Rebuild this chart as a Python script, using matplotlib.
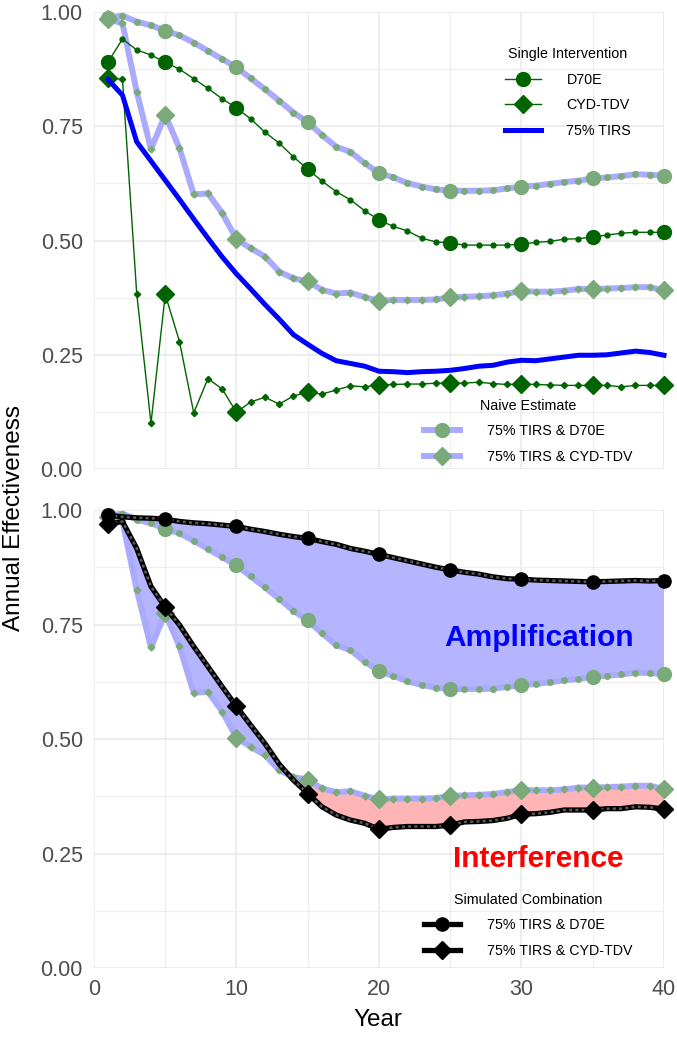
import numpy as np
import matplotlib
matplotlib.use("Agg")
import matplotlib.pyplot as plt
from matplotlib.lines import Line2D

plt.rcParams['font.family'] = ['Liberation Sans', 'DejaVu Sans']

# Date
years = np.arange(1, 41)
big_years = [1, 5, 10, 15, 20, 25, 30, 35, 40]

d70e = [0.891, 0.941, 0.917, 0.906, 0.890, 0.875, 0.854, 0.833, 0.810, 0.790,
        0.766, 0.737, 0.713, 0.683, 0.656, 0.630, 0.607, 0.589, 0.565, 0.545,
        0.531, 0.521, 0.505, 0.497, 0.495, 0.490, 0.490, 0.490, 0.490, 0.492,
        0.496, 0.498, 0.503, 0.504, 0.508, 0.512, 0.516, 0.518, 0.518, 0.518]
cyd = [0.855, 0.853, 0.384, 0.100, 0.382, 0.279, 0.123, 0.198, 0.175, 0.124,
       0.147, 0.157, 0.142, 0.160, 0.168, 0.164, 0.173, 0.182, 0.180, 0.184,
       0.185, 0.186, 0.186, 0.188, 0.188, 0.188, 0.190, 0.187, 0.185, 0.186,
       0.185, 0.184, 0.183, 0.183, 0.183, 0.183, 0.180, 0.183, 0.183, 0.183]
tirs = [0.852, 0.818, 0.716, 0.674, 0.632, 0.590, 0.547, 0.505, 0.464, 0.427,
        0.394, 0.360, 0.328, 0.294, 0.273, 0.253, 0.237, 0.231, 0.225, 0.214,
        0.213, 0.211, 0.213, 0.214, 0.216, 0.220, 0.225, 0.227, 0.234, 0.238,
        0.237, 0.241, 0.245, 0.249, 0.249, 0.250, 0.254, 0.258, 0.255, 0.249]
naive_d70e = [0.988, 0.992, 0.979, 0.971, 0.959, 0.949, 0.933, 0.915, 0.897, 0.879,
              0.855, 0.831, 0.806, 0.780, 0.759, 0.731, 0.705, 0.694, 0.669, 0.648,
              0.638, 0.626, 0.618, 0.612, 0.609, 0.609, 0.609, 0.610, 0.614, 0.618,
              0.620, 0.624, 0.628, 0.631, 0.636, 0.638, 0.641, 0.645, 0.644, 0.642]
naive_cyd = [0.985, 0.975, 0.826, 0.700, 0.775, 0.702, 0.601, 0.603, 0.560, 0.503,
             0.483, 0.465, 0.432, 0.417, 0.411, 0.392, 0.384, 0.386, 0.376, 0.368,
             0.370, 0.370, 0.370, 0.371, 0.376, 0.377, 0.378, 0.380, 0.384, 0.389,
             0.388, 0.388, 0.390, 0.394, 0.394, 0.395, 0.396, 0.398, 0.398, 0.391]
sim_d70e = [0.989, 0.985, 0.983, 0.982, 0.980, 0.975, 0.972, 0.970, 0.967, 0.964,
            0.958, 0.953, 0.947, 0.942, 0.938, 0.931, 0.925, 0.916, 0.910, 0.903,
            0.896, 0.889, 0.882, 0.875, 0.869, 0.864, 0.860, 0.854, 0.850, 0.849,
            0.847, 0.846, 0.845, 0.844, 0.843, 0.844, 0.845, 0.846, 0.845, 0.846]
sim_cyd = [0.969, 0.975, 0.916, 0.833, 0.788, 0.749, 0.702, 0.658, 0.614, 0.571,
           0.530, 0.490, 0.445, 0.410, 0.381, 0.352, 0.334, 0.323, 0.316, 0.303,
           0.307, 0.309, 0.309, 0.309, 0.312, 0.319, 0.320, 0.322, 0.327, 0.336,
           0.337, 0.340, 0.345, 0.345, 0.345, 0.348, 0.348, 0.352, 0.351, 0.347]

dkgreen = '#006400'
ltgreen = '#7aaa7a'
ltblue = '#aaaaff'
blue = '#0000ff'

idx = [y - 1 for y in big_years]


def sel(v):
    return [v[i] for i in idx]


def style(ax):
    ax.set_xlim(0, 40)
    ax.set_ylim(0, 1)
    ax.set_xticks([0, 10, 20, 30, 40])
    ax.set_xticks([5, 15, 25, 35], minor=True)
    ax.set_yticks([0, 0.25, 0.5, 0.75, 1.0])
    ax.set_yticklabels(['0.00', '0.25', '0.50', '0.75', '1.00'])
    ax.set_yticks([0.125, 0.375, 0.625, 0.875], minor=True)
    ax.grid(True, which='major', color='#e8e8e8', lw=1.1, zorder=0)
    ax.grid(True, which='minor', color='#efefef', lw=0.9, zorder=0)
    ax.set_axisbelow(True)
    for s in ax.spines.values():
        s.set_visible(False)
    ax.tick_params(which='both', length=0, labelsize=15.5, colors='#4d4d4d', pad=8)


def naive(ax, v, m, ms):
    ax.plot(years, v, color=ltblue, lw=4.3, zorder=2, clip_on=False, solid_capstyle='butt')
    ax.plot(years, v, ls='none', marker=m, ms=ms, color=ltgreen, zorder=2.1, clip_on=False)
    ax.plot(big_years, sel(v), ls='none', marker=m, ms=10 if m == 'o' else 9,
            color=ltgreen, zorder=2.2, clip_on=False)


def simulated(ax, v, m):
    ax.plot(years, v, color='black', lw=3.8, zorder=4, clip_on=False)
    ax.plot(years, v, color='#5a5a5a', lw=1.8, ls=(0, (1.2, 1.3)), zorder=4.1, clip_on=False)
    ax.plot(big_years, sel(v), ls='none', marker=m, ms=9.5 if m == 'o' else 9,
            color='black', zorder=4.2, clip_on=False)


leg_kw = dict(loc='upper left', frameon=False, fontsize=10.3, title_fontsize=10.3,
              handlelength=2.5, labelspacing=0.8, borderpad=0, borderaxespad=0)

fig = plt.figure(figsize=(6.77, 10.37), dpi=100)
ax1 = fig.add_axes([0.1388, 0.5477, 0.842, 0.4407])
ax2 = fig.add_axes([0.1388, 0.0665, 0.842, 0.4417])

# Panoul de sus - interventii singure + estimare naiva
style(ax1)
ax1.set_xticklabels([])
ax1.plot(years, d70e, color=dkgreen, lw=1.0, marker='o', ms=3.5, zorder=3, clip_on=False)
ax1.plot(big_years, sel(d70e), ls='none', marker='o', ms=10, color=dkgreen, zorder=3, clip_on=False)
ax1.plot(years, cyd, color=dkgreen, lw=1.0, marker='D', ms=3.2, zorder=3, clip_on=False)
ax1.plot(big_years, sel(cyd), ls='none', marker='D', ms=9, color=dkgreen, zorder=3, clip_on=False)
ax1.plot(years, tirs, color=blue, lw=3.6, zorder=3, clip_on=False)
naive(ax1, naive_d70e, 'o', 4.0)
naive(ax1, naive_cyd, 'D', 3.5)

h_single = [Line2D([], [], color=dkgreen, lw=1.0, marker='o', ms=10),
            Line2D([], [], color=dkgreen, lw=1.0, marker='D', ms=9),
            Line2D([], [], color=blue, lw=3.6)]
leg1 = ax1.legend(h_single, ['D70E', 'CYD-TDV', '75% TIRS'], title='Single Intervention',
                  bbox_to_anchor=(0.721, 0.923), handletextpad=1.8, **leg_kw)
ax1.add_artist(leg1)

h_naive = [Line2D([], [], color=ltblue, lw=4.3, marker='o', ms=10, mfc=ltgreen, mec=ltgreen),
           Line2D([], [], color=ltblue, lw=4.3, marker='D', ms=9, mfc=ltgreen, mec=ltgreen)]
ax1.legend(h_naive, [' 75% TIRS & D70E', ' 75% TIRS & CYD-TDV'], title='Naive Estimate',
           bbox_to_anchor=(0.579, 0.154), handletextpad=1.6, **leg_kw)

# Panoul de jos - combinatia simulata vs estimarea naiva
style(ax2)
nd = np.array(naive_d70e)
nc = np.array(naive_cyd)
sd = np.array(sim_d70e)
sc = np.array(sim_cyd)
ax2.fill_between(years, nd, sd, where=sd >= nd, interpolate=True, color='#b5b5ff', lw=0, zorder=1)
ax2.fill_between(years, nc, sc, where=sc >= nc, interpolate=True, color='#b5b5ff', lw=0, zorder=1)
ax2.fill_between(years, nc, sc, where=sc < nc, interpolate=True, color='#ffb5b5', lw=0, zorder=1)
naive(ax2, naive_d70e, 'o', 4.0)
naive(ax2, naive_cyd, 'D', 3.5)
simulated(ax2, sim_d70e, 'o')
simulated(ax2, sim_cyd, 'D')

ax2.text(31.2, 0.72, 'Amplification', color='#0000ff', fontsize=21.5, fontweight='bold',
         ha='center', va='center', zorder=5)
ax2.text(31.2, 0.238, 'Interference', color='#ff0000', fontsize=21.5, fontweight='bold',
         ha='center', va='center', zorder=5)

h_sim = [Line2D([], [], color='black', lw=3.8, marker='o', ms=9.5),
         Line2D([], [], color='black', lw=3.8, marker='D', ms=9)]
ax2.legend(h_sim, [' 75% TIRS & D70E', ' 75% TIRS & CYD-TDV'], title='Simulated Combination',
           bbox_to_anchor=(0.579, 0.164), handletextpad=1.6, **leg_kw)

fig.text(14 / 677, 1 - 518 / 1037, 'Annual Effectiveness', rotation=90, fontsize=17.5,
         ha='center', va='center')
fig.text(378 / 677, 1 - 1020 / 1037, 'Year', fontsize=17.5, ha='center', va='center')

fig.savefig('out.png', dpi=100)
